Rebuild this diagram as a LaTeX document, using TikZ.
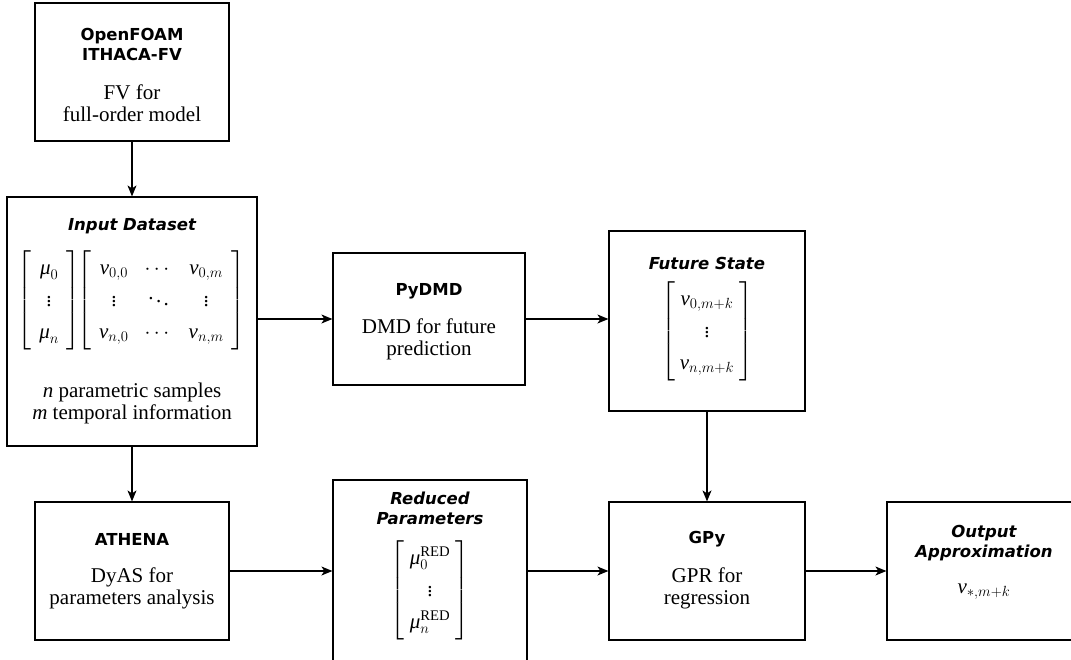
\RequirePackage{fix-cm}
\documentclass[tikz,border=0pt]{standalone}
\usepackage{amsmath}
\usepackage{fontspec}
\setmainfont{Liberation Serif}
\newfontfamily\dejabold{DejaVu Sans Bold}
\newfontfamily\dejaboldit{DejaVu Sans Bold Oblique}
\usetikzlibrary{arrows.meta}
\newcommand{\vv}{\mathord{\textit{v}}}
\newcommand{\mmu}{\mathord{\textit{μ}}}
\newcommand{\matsetup}[1]{\setlength{\arraycolsep}{#1}\def\arraystretch{1.38}}
\newcommand{\lmat}[2]{\left[\begin{array}{#1}#2\end{array}\right]}
\tikzset{
  x=1pt, y=-1pt,
  box/.style={draw, line width=1.2pt, rectangle, inner sep=0pt},
  ttl/.style={align=center, inner sep=0pt, font=\fontsize{16.5}{20}\selectfont\dejabold},
  ttli/.style={align=center, inner sep=0pt, font=\fontsize{16.5}{20}\selectfont\dejaboldit},
  body/.style={align=center, inner sep=0pt, font=\fontsize{21}{22}\selectfont},
  mat/.style={inner sep=0pt, font=\fontsize{21}{23}\selectfont},
  arr/.style={line width=1.2pt, -{Stealth[length=11pt,width=9pt,inset=3pt]}}
}
\begin{document}
\begin{tikzpicture}
\useasboundingbox (0,0) rectangle (1071,659);
% boxes
\node[box, minimum width=194pt, minimum height=138pt] (fom) at (132,72) {};
\node[box, minimum width=250pt, minimum height=249pt] (input) at (132,321.5) {};
\node[box, minimum width=192pt, minimum height=132pt] (pydmd) at (429,319) {};
\node[box, minimum width=196pt, minimum height=180pt] (future) at (707,321) {};
\node[box, minimum width=194pt, minimum height=138pt] (athena) at (132,571) {};
\node[box, minimum width=194pt, minimum height=182pt] (reduced) at (430,571) {};
\node[box, minimum width=196pt, minimum height=138pt] (gpy) at (707,571) {};
\node[box, minimum width=194pt, minimum height=138pt] (output) at (984,571) {};
% texts
\node[ttl] (fomT) at (132,44) {OpenFOAM\\ITHACA-FV};
\node[body] (fomB) at (132,103) {FV for\\full-order model};
\node[ttli] (inT) at (132,226) {Input Dataset};
\node[mat] (inM) at (131.5,300)
  {\matsetup{8pt}$\lmat{c}{\mmu_0\\ \vdots\\ \mmu_n}\!\!
    \lmat{ccc}{\vv_{0,0} & \cdots & \vv_{0,m}\\ \vdots & \ddots & \vdots\\ \vv_{n,0} & \cdots & \vv_{n,m}}$};
\node[body] (inB) at (132,403) {\textit{n} parametric samples\\\textit{m} temporal information};
\node[ttl] (pyT) at (429,291) {PyDMD};
\node[body] (pyB) at (429,339) {DMD for future\\prediction};
\node[ttli] (fuT) at (707,263) {Future State};
\node[mat] (fuM) at (707,331)
  {\matsetup{5pt}$\lmat{c}{\vv_{0,m+k}\\ \vdots\\ \vv_{n,m+k}}$};
\node[ttl] (atT) at (132,539) {ATHENA};
\node[body] (atB) at (132,588) {DyAS for\\parameters analysis};
\node[ttli] (reT) at (430,508) {Reduced\\Parameters};
\node[mat] (reM) at (430,590)
  {\matsetup{5pt}$\lmat{c}{\mmu_0^{\mathrm{RED}}\\ \vdots\\ \mmu_n^{\mathrm{RED}}}$};
\node[ttl] (gpT) at (707,539) {GPy};
\node[body] (gpB) at (707,588) {GPR for\\regression};
\node[ttli] (ouT) at (984,543) {Output\\Approximation};
\node[mat] (ouM) at (984,592) {$\vv_{*,m+k}$};
% connectors
\draw[arr] (fom.south) -- (input.north);
\draw[arr] (input.east |- pydmd.west) -- (pydmd.west);
\draw[arr] (pydmd.east) -- (pydmd.east -| future.west);
\draw[arr] (input.south) -- (athena.north);
\draw[arr] (athena.east) -- (reduced.west);
\draw[arr] (reduced.east) -- (gpy.west);
\draw[arr] (future.south) -- (gpy.north);
\draw[arr] (gpy.east) -- (output.west);
\end{tikzpicture}
\end{document}
